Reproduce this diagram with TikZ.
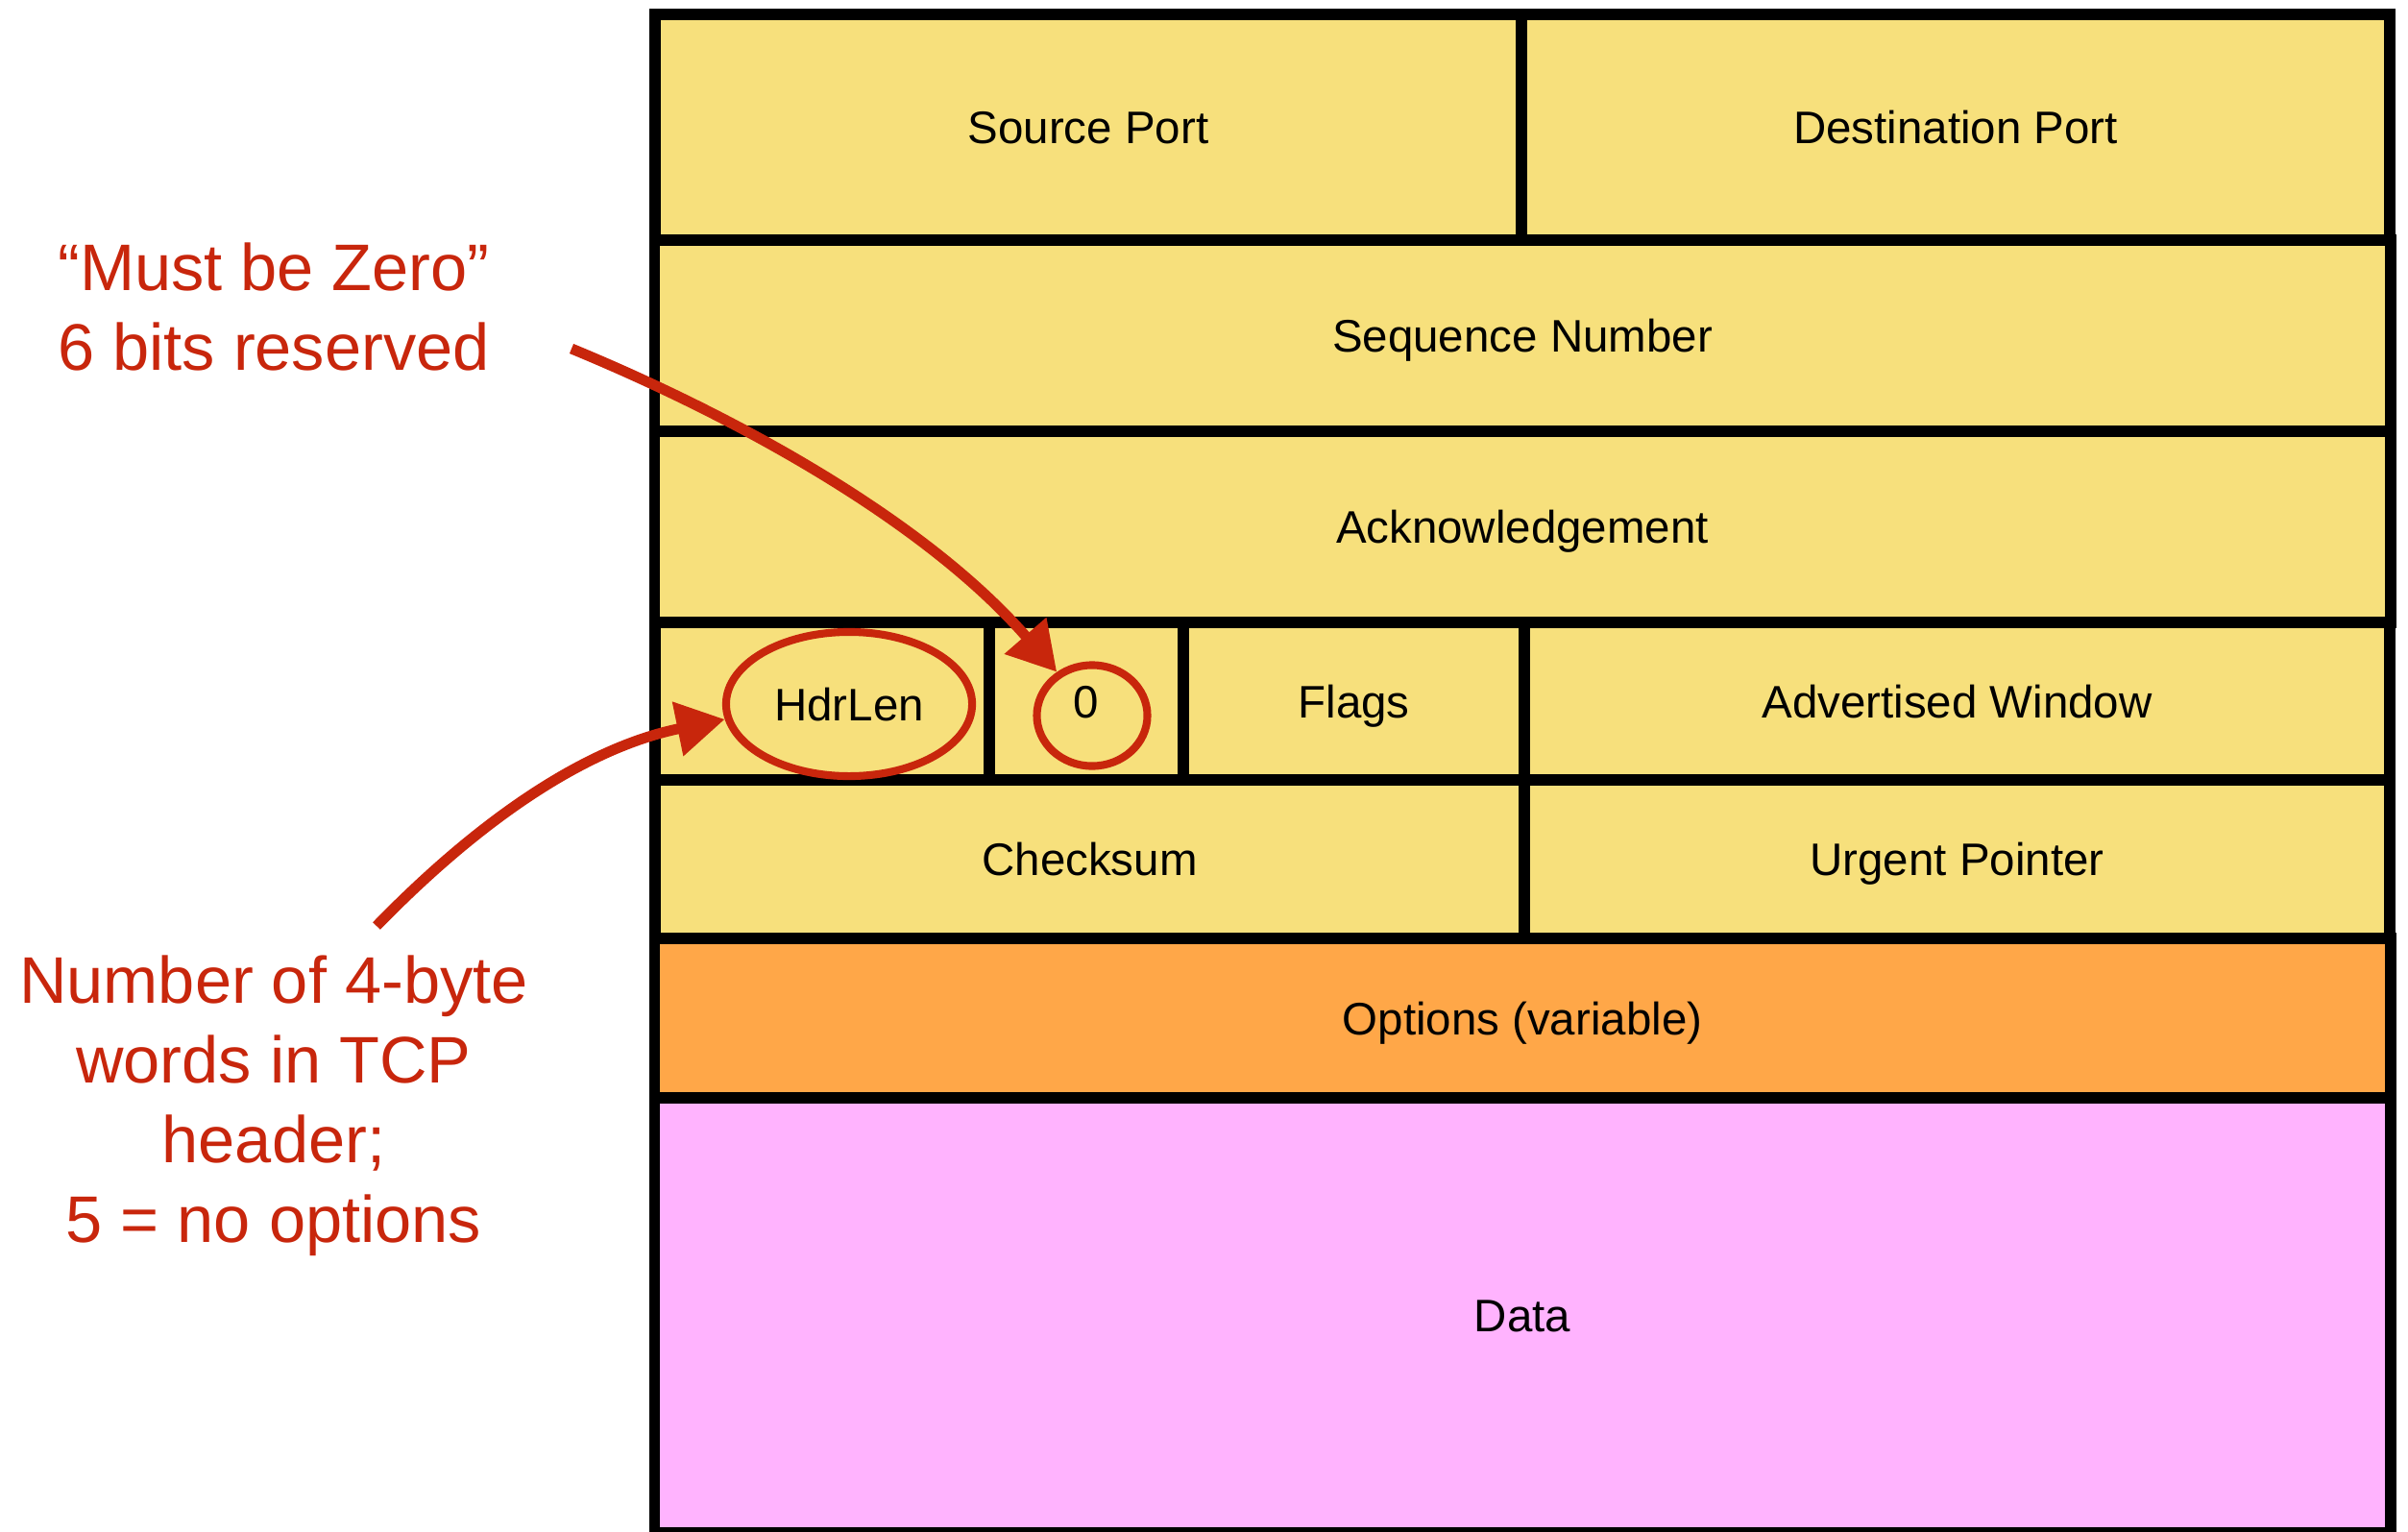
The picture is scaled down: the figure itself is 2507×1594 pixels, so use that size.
\documentclass[tikz,border=0pt]{standalone}
\usepackage{fontspec}
\setmainfont{Liberation Sans}
\usetikzlibrary{arrows.meta,shapes.geometric}
\definecolor{hdryellow}{HTML}{F7E07C}
\definecolor{optorange}{HTML}{FFA748}
\definecolor{datapink}{HTML}{FFB3FE}
\definecolor{notered}{HTML}{C8260C}

\begin{document}
\begin{tikzpicture}[x=0.01cm, y=-0.01cm, every node/.style={font=\fontsize{13.5}{16}\selectfont},
    field/.style={draw, line width=3.4pt, fill=hdryellow, inner sep=0pt, text height=0.34cm, text depth=0pt},
    ring/.style={ellipse, draw=notered, line width=2.3pt, inner sep=0pt},
    note/.style={text=notered, align=center, font=\fontsize{19.5}{23.6}\selectfont},
    notearrow/.style={notered, line width=3.1pt, -{Triangle[length=5mm, width=5.5mm]}}]
	\useasboundingbox (0,0) rectangle (2507,1594);
	
	% header rows
	\node[field, minimum width=9.02cm, minimum height=2.35cm] (srcport) at (1133,132.5) {Source Port};
	\node[field, minimum width=9.04cm, minimum height=2.35cm] (dstport) at (2036,132.5) {Destination Port};
	\node[field, minimum width=18.06cm, minimum height=1.99cm] (seqnum) at (1585,349.5) {Sequence Number};
	\node[field, minimum width=18.06cm, minimum height=1.99cm] (acknum) at (1585,548.5) {Acknowledgement};
	\node[field, minimum width=3.48cm, minimum height=1.64cm] (hdrcell) at (856,730) {};
	\node[field, minimum width=2.02cm, minimum height=1.64cm] (zerocell) at (1131,730) {0};
	\node[field, minimum width=3.55cm, minimum height=1.64cm] (flags) at (1409.5,730) {Flags};
	\node[field, minimum width=9.01cm, minimum height=1.64cm] (advwin) at (2037.5,730) {Advertised Window};
	\node[field, minimum width=9.05cm, minimum height=1.65cm] (checksum) at (1134.5,894.5) {Checksum};
	\node[field, minimum width=9.01cm, minimum height=1.65cm] (urgptr) at (2037.5,894.5) {Urgent Pointer};
	\node[field, fill=optorange, minimum width=18.06cm, minimum height=1.66cm] (options) at (1585,1060) {Options (variable)};
	\node[field, fill=datapink, minimum width=18.06cm, minimum height=4.53cm] (data) at (1585,1369.5) {Data};
	
	% circled fields
	\node[ring, text height=0.34cm, text depth=0pt, minimum width=2.56cm, minimum height=1.5cm] (hdrlen) at (884,733) {HdrLen};
	\node[ring, minimum width=1.15cm, minimum height=1.05cm] (zeroring) at (1137,745) {};
	
	% notes (base = last line)
	\node[note, anchor=base] (zeronote) at (285,385) {“Must be Zero”\\6 bits reserved};
	\node[note, anchor=base] (hdrnote) at (285,1293) {Number of 4-byte\\words in TCP\\header;\\5 = no options};
	\coordinate (zerotail) at (595,363);
	\coordinate (hdrtail) at (392,964);
	
	\draw[notearrow] (zerotail) .. controls +(184,76) and +(-132,-152) .. (zeroring.129);
	\draw[notearrow] (hdrtail) .. controls +(105,-108) and +(-147,30) .. (hdrlen.187);
\end{tikzpicture}
\end{document}
